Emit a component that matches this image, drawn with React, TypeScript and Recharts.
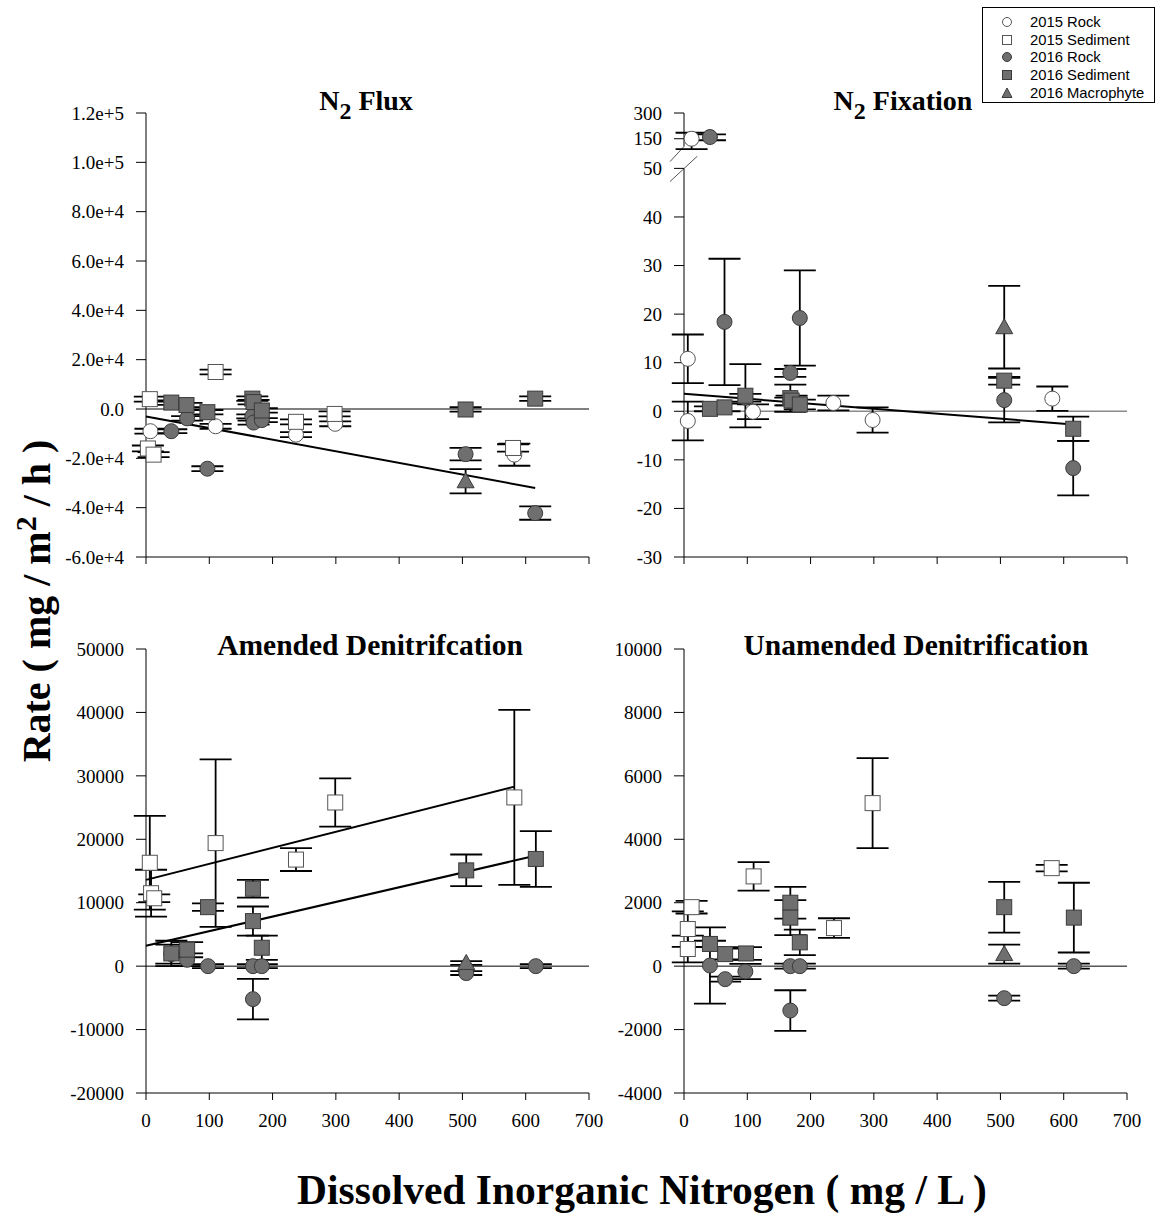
import React from "react";
import { ScatterChart, Scatter, XAxis, YAxis, ErrorBar, ReferenceLine } from "recharts";

type Pt = [number, number, number]; // [DIN, rate, error]

const SERIF = "'Liberation Serif', 'Times New Roman', serif";
const SANS = "'Liberation Sans', Arial, sans-serif";

// ---- N2 Flux ----
const fluxRock2015: Pt[] = [[7, -9000, 1000], [110, -7000, 1000], [237, -10400, 1000], [299, -6000, 1000], [582, -18500, 4500]];
const fluxSed2015: Pt[] = [[6, 4000, 1000], [3, -16000, 1200], [12, -18500, 1000], [110, 15000, 1000], [237, -5200, 1000], [298, -2000, 1000], [580, -15800, 1500]];
const fluxRock2016: Pt[] = [[40, -9000, 800], [65, -3800, 900], [97, -24200, 1000], [168, -3000, 800], [170, -5500, 800], [183, -4500, 800], [505, -18300, 2500], [615, -42200, 2700]];
const fluxSed2016: Pt[] = [[40, 2600, 900], [64, 1600, 900], [97, -1300, 900], [168, 4200, 900], [170, 2800, 900], [183, -600, 900], [505, -200, 900], [615, 4200, 900]];
const fluxMac2016: Pt[] = [[505, -29300, 4900]];
const fluxFit = [{ x: 0, y: -3000 }, { x: 615, y: -32000 }];
const fluxTicks = [-60000, -40000, -20000, 0, 20000, 40000, 60000, 80000, 100000, 120000];

// ---- N2 Fixation ----
const fixRock2015: Pt[] = [[12, 150, 35], [6, 10.8, 5], [6, -2, 4], [109, -0.1, 1.5], [236, 1.7, 1.5], [298, -1.8, 2.6], [582, 2.6, 2.5]];
const fixRock2016: Pt[] = [[41, 160, 15], [64, 18.4, 13], [97, 2.8, 0.8], [168, 7.9, 0.8], [168, 2, 0.8], [183, 19.2, 9.8], [506, 2.3, 4.6], [615, -11.7, 5.6]];
const fixSed2016: Pt[] = [[41, 0.5, 0.5], [64, 0.8, 0.8], [97, 3.2, 6.5], [168, 2.7, 2.8], [170, 2.2, 1], [183, 1.4, 1], [506, 6.3, 0.8], [615, -3.6, 2.5]];
const fixMac2016: Pt[] = [[506, 17.3, 8.5]];
const fixFit = [{ x: 0, y: 3.6 }, { x: 615, y: -2.7 }];
const fixTickLabels = [-30, -20, -10, 0, 10, 20, 30, 40, 50, 150, 300];

// ---- Amended Denitrification ----
const amSed2015: Pt[] = [[6, 16300, 7400], [8, 11500, 3700], [13, 10700, 600], [110, 19400, 13200], [237, 16800, 1800], [299, 25800, 3800], [582, 26600, 13800]];
const amRock2016: Pt[] = [[40, 1900, 1500], [65, 1000, 1000], [98, 0, 300], [169, 0, 300], [169, -5200, 3200], [183, 0, 300], [506, -1100, 300], [616, 0, 300]];
const amSed2016: Pt[] = [[40, 2000, 2000], [65, 2600, 1200], [98, 9300, 600], [169, 12200, 1400], [169, 7100, 2300], [183, 2900, 1900], [506, 15100, 2500], [616, 16900, 4400]];
const amMac2016: Pt[] = [[506, 500, 300]];
const amFit2015 = [{ x: 0, y: 13600 }, { x: 582, y: 28300 }];
const amFit2016 = [{ x: 0, y: 3200 }, { x: 615, y: 17400 }];
const amTicks = [-20000, -10000, 0, 10000, 20000, 30000, 40000, 50000];

// ---- Unamended Denitrification ----
const unSed2015: Pt[] = [[6, 1170, 560], [6, 540, 420], [12, 1860, 200], [110, 2830, 450], [237, 1200, 310], [298, 5140, 1420], [581, 3090, 100]];
const unRock2016: Pt[] = [[41, 20, 1200], [65, -410, 80], [97, -170, 240], [168, 0, 80], [168, -1400, 640], [183, 0, 80], [506, -1010, 80], [616, 0, 80]];
const unSed2016: Pt[] = [[41, 700, 100], [65, 380, 170], [98, 400, 200], [168, 2000, 500], [168, 1530, 550], [183, 750, 400], [506, 1860, 800], [616, 1530, 1100]];
const unMac2016: Pt[] = [[506, 380, 300]];
const unTicks = [-4000, -2000, 0, 2000, 4000, 6000, 8000, 10000];

const xTicks = [0, 100, 200, 300, 400, 500, 600, 700];

const PW = 443;
const PH = 444;

const DARK = "#6f6f6f";
const DARK_EDGE = "#3a3a3a";
const OPEN_EDGE = "#555";

// broken axis for N2 fixation: 50 -> 150 -> 300 squeezed above the break
function fixDisp(v: number) {
  if (v <= 50) return v;
  if (v <= 150) return 50 + (v - 50) * (6.1 / 100);
  return 56.1 + (v - 150) * (5.3 / 150);
}
const ident = (v: number) => v;

function rows(pts: Pt[], tf: (v: number) => number = ident) {
  return pts.map(([x, y, e]) => ({
    x,
    y: tf(y),
    err: [tf(y) - tf(y - e), tf(y + e) - tf(y)],
  }));
}

const circleShape = (fill: string, stroke: string) => (p: any) =>
  <circle cx={p.cx} cy={p.cy} r={7.5} fill={fill} stroke={stroke} strokeWidth={1} />;
const squareShape = (fill: string, stroke: string) => (p: any) =>
  <rect x={p.cx - 7.5} y={p.cy - 7.5} width={15} height={15} fill={fill} stroke={stroke} strokeWidth={1} />;
const triShape = (fill: string, stroke: string) => (p: any) =>
  <polygon points={`${p.cx},${p.cy - 8.5} ${p.cx + 8.5},${p.cy + 6.5} ${p.cx - 8.5},${p.cy + 6.5}`} fill={fill} stroke={stroke} strokeWidth={1} />;

const SHAPES: Record<string, any> = {
  rock2015: circleShape("#fff", OPEN_EDGE),
  sed2015: squareShape("#fff", OPEN_EDGE),
  rock2016: circleShape(DARK, DARK_EDGE),
  sed2016: squareShape(DARK, DARK_EDGE),
  mac2016: triShape(DARK, DARK_EDGE),
};

function series(name: string, pts: Pt[], tf?: (v: number) => number) {
  return (
    <Scatter key={name} name={name} data={rows(pts, tf)} shape={SHAPES[name]} isAnimationActive={false}>
      <ErrorBar dataKey="err" direction="y" width={16} stroke="#000" strokeWidth={1.8} isAnimationActive={false} />
    </Scatter>
  );
}

function eFormat(v: number) {
  if (v === 0) return "0.0";
  const exp = Math.floor(Math.log10(Math.abs(v)));
  return (v / Math.pow(10, exp)).toFixed(1) + "e+" + exp;
}

const tickStyle = { fill: "#000", fontSize: 19, fontFamily: SERIF };

function Panel(props: {
  left: number;
  top: number;
  domain: number[];
  ticks: number[];
  fmt?: (v: number) => string;
  xLabels: boolean;
  yAxisLine?: boolean;
  children: any;
}) {
  const { left, top, domain, ticks, fmt, xLabels, yAxisLine = true, children } = props;
  return (
    <div style={{ position: "absolute", left: left - 110, top: top - 50 }}>
      <ScatterChart width={PW + 130} height={PH + 100} margin={{ top: 50, right: 20, bottom: 20, left: 10 }}>
        <XAxis
          type="number"
          dataKey="x"
          domain={[0, 700]}
          ticks={xTicks}
          interval={0}
          height={30}
          tickSize={7}
          tickMargin={14}
          axisLine={{ stroke: "#000" }}
          tickLine={{ stroke: "#000" }}
          tick={tickStyle}
          tickFormatter={(v: number) => (xLabels ? String(v) : "")}
        />
        <YAxis
          type="number"
          dataKey="y"
          domain={domain}
          ticks={ticks}
          interval={0}
          width={100}
          tickSize={10}
          tickMargin={12}
          axisLine={yAxisLine ? { stroke: "#000" } : false}
          tickLine={{ stroke: "#000" }}
          tick={tickStyle}
          tickFormatter={fmt}
        />
        {children}
      </ScatterChart>
    </div>
  );
}

function Title({ cx, top, size = 28, children }: { cx: number; top: number; size?: number; children: any }) {
  return (
    <div
      style={{
        position: "absolute",
        left: cx,
        top,
        transform: "translateX(-50%)",
        fontFamily: SERIF,
        fontWeight: "bold",
        fontSize: size,
        lineHeight: 1,
        whiteSpace: "nowrap",
        color: "#000",
      }}
    >
      {children}
    </div>
  );
}

const Sub = () => <span style={{ fontSize: 24, position: "relative", top: 9 }}>2</span>;

const legendItems = [
  { label: "2015 Rock", key: "rock2015" },
  { label: "2015 Sediment", key: "sed2015" },
  { label: "2016 Rock", key: "rock2016" },
  { label: "2016 Sediment", key: "sed2016" },
  { label: "2016 Macrophyte", key: "mac2016" },
];

function LegendIcon({ k }: { k: string }) {
  const open = k.endsWith("2015");
  const fill = open ? "#fff" : DARK;
  const stroke = open ? OPEN_EDGE : DARK_EDGE;
  return (
    <svg width={14} height={14} style={{ position: "absolute", left: 17, top: 2 }}>
      {k.startsWith("rock") && <circle cx={7} cy={7} r={4.5} fill={fill} stroke={stroke} />}
      {k.startsWith("sed") && <rect x={2.5} y={2.5} width={9} height={9} fill={fill} stroke={stroke} />}
      {k.startsWith("mac") && <polygon points="7,2 12,11.5 2,11.5" fill={fill} stroke={stroke} />}
    </svg>
  );
}

export default function App() {
  const fixTicks = fixTickLabels.map(fixDisp);
  const fixFmt = (v: number) => {
    const i = fixTicks.findIndex((t) => Math.abs(t - v) < 1e-6);
    return i >= 0 ? String(fixTickLabels[i]) : "";
  };
  const breakTop = 124;

  return (
    <div style={{ position: "absolute", left: 0, top: 0, width: 1157, height: 1219, background: "#fff", overflow: "hidden" }}>
      {/* N2 Flux */}
      <Panel left={146} top={113} domain={[-60000, 120000]} ticks={fluxTicks} fmt={eFormat} xLabels={false}>
        <ReferenceLine y={0} stroke="#000" strokeWidth={1} />
        <ReferenceLine segment={fluxFit} stroke="#000" strokeWidth={2} />
        {series("rock2015", fluxRock2015)}
        {series("sed2015", fluxSed2015)}
        {series("rock2016", fluxRock2016)}
        {series("sed2016", fluxSed2016)}
        {series("mac2016", fluxMac2016)}
      </Panel>

      {/* N2 Fixation */}
      <Panel left={684} top={113} domain={[-30, fixDisp(300)]} ticks={fixTicks} fmt={fixFmt} xLabels={false} yAxisLine={false}>
        <ReferenceLine segment={[{ x: 0, y: -30 }, { x: 0, y: 50 }]} stroke="#000" strokeWidth={1} />
        <ReferenceLine segment={[{ x: 0, y: fixDisp(breakTop) }, { x: 0, y: fixDisp(300) }]} stroke="#000" strokeWidth={1} />
        <ReferenceLine segment={[{ x: 0, y: fixDisp(breakTop) }, { x: -22, y: fixDisp(73) }]} stroke="#555" strokeWidth={1} ifOverflow="visible" />
        <ReferenceLine segment={[{ x: 21, y: fixDisp(91) }, { x: -22, y: 47.3 }]} stroke="#555" strokeWidth={1} ifOverflow="visible" />
        <ReferenceLine y={0} stroke="#8a8a8a" strokeWidth={1.5} />
        <ReferenceLine segment={fixFit} stroke="#000" strokeWidth={2} />
        {series("rock2015", fixRock2015, fixDisp)}
        {series("rock2016", fixRock2016, fixDisp)}
        {series("sed2016", fixSed2016, fixDisp)}
        {series("mac2016", fixMac2016, fixDisp)}
      </Panel>

      {/* Amended */}
      <Panel left={146} top={649} domain={[-20000, 50000]} ticks={amTicks} xLabels={true}>
        <ReferenceLine y={0} stroke="#000" strokeWidth={1} />
        <ReferenceLine segment={amFit2015} stroke="#000" strokeWidth={2} />
        <ReferenceLine segment={amFit2016} stroke="#000" strokeWidth={2} />
        {series("sed2015", amSed2015)}
        {series("rock2016", amRock2016)}
        {series("sed2016", amSed2016)}
        {series("mac2016", amMac2016)}
      </Panel>

      {/* Unamended */}
      <Panel left={684} top={649} domain={[-4000, 10000]} ticks={unTicks} xLabels={true}>
        <ReferenceLine y={0} stroke="#000" strokeWidth={1} />
        {series("sed2015", unSed2015)}
        {series("rock2016", unRock2016)}
        {series("sed2016", unSed2016)}
        {series("mac2016", unMac2016)}
      </Panel>

      <Title cx={366} top={87}>N<Sub /> Flux</Title>
      <Title cx={903} top={87}>N<Sub /> Fixation</Title>
      <Title cx={370} top={631} size={29.5}>Amended Denitrifcation</Title>
      <Title cx={916} top={631} size={29.5}>Unamended Denitrification</Title>

      {/* y label */}
      <div
        style={{
          position: "absolute",
          left: 37,
          top: 601,
          transform: "translate(-50%, -50%) rotate(-90deg)",
          fontFamily: SERIF,
          fontWeight: "bold",
          fontSize: 40,
          lineHeight: 1,
          whiteSpace: "nowrap",
          color: "#000",
        }}
      >
        Rate ( mg / m<span style={{ fontSize: 30, position: "relative", top: -14 }}>2</span> / h )
      </div>

      {/* x label */}
      <div
        style={{
          position: "absolute",
          left: 642,
          top: 1170,
          transform: "translateX(-50%)",
          fontFamily: SERIF,
          fontWeight: "bold",
          fontSize: 41.5,
          lineHeight: 1,
          whiteSpace: "nowrap",
          color: "#000",
        }}
      >
        Dissolved Inorganic Nitrogen ( mg / L )
      </div>

      {/* legend */}
      <div
        style={{
          position: "absolute",
          left: 982,
          top: 7,
          width: 171,
          height: 94,
          border: "1.5px solid #000",
          background: "#fff",
          fontFamily: SANS,
          fontSize: 14.8,
          color: "#000",
        }}
      >
        {legendItems.map((it, i) => (
          <div key={it.key} style={{ position: "absolute", left: 0, top: 5 + i * 17.7, height: 18, width: 171 }}>
            <LegendIcon k={it.key} />
            <span style={{ position: "absolute", left: 47, top: 0, lineHeight: "18px", whiteSpace: "nowrap" }}>{it.label}</span>
          </div>
        ))}
      </div>
    </div>
  );
}
